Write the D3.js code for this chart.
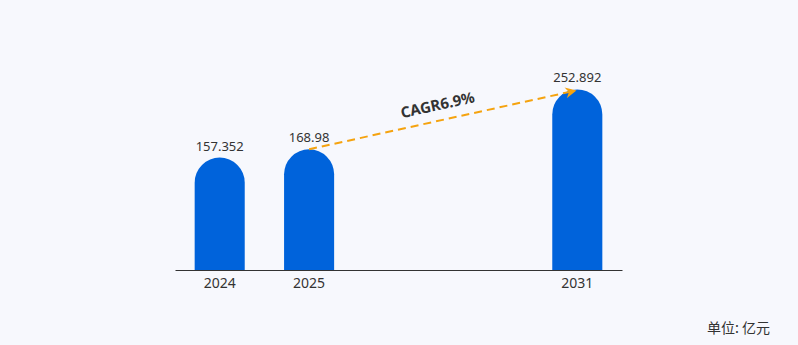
<!DOCTYPE html>
<html>
<head>
<meta charset="utf-8">
<script src="https://cdn.jsdelivr.net/npm/d3@7"></script>
<style>
  html, body { margin: 0; padding: 0; background: #f7f8fd; }
  svg { display: block; font-family: "Noto Sans", "Noto Sans CJK SC", sans-serif; }
</style>
</head>
<body>
<div id="chart"></div>
<script>
// data
var years = ["2024", "2025", "", "", "2031"];
var values = [157.352, 168.98, null, null, 252.892];
var labels = ["157.352", "168.98", "", "", "252.892"];
var cagrText = "CAGR6.9%";
var unitText = "单位: 亿元";

var width = 798, height = 345;
var margin = {top: 70, right: 176, bottom: 75, left: 175};

var svg = d3.select("#chart")
  .append("svg")
  .attr("width", width)
  .attr("height", height);

svg.append("rect")
  .attr("width", width)
  .attr("height", height)
  .attr("fill", "#f7f8fd");

var idx = d3.range(years.length);

// x scale, one slot per category (two empty slots)
var xScale = d3.scaleBand()
  .domain(idx)
  .range([margin.left, width - margin.right])
  .paddingInner(0.44)
  .paddingOuter(0.22);

var yScale = d3.scaleLinear()
  .domain([0, 280])
  .range([height - margin.bottom, margin.top]);

var baseY = yScale(0);

// arrow marker
svg.append("defs").append("marker")
  .attr("id", "arrow")
  .attr("viewBox", "0 0 10 10")
  .attr("refX", 8)
  .attr("refY", 5)
  .attr("markerWidth", 12)
  .attr("markerHeight", 11)
  .attr("markerUnits", "userSpaceOnUse")
  .attr("orient", "auto")
  .append("path")
  .attr("d", "M0,0 L10,5 L0,10 L3,5 Z")
  .attr("fill", "#f5a30f");

// x axis
var xAxis = d3.axisBottom(xScale)
  .tickSize(0)
  .tickPadding(8)
  .tickFormat(function(d) { return years[d]; });

var xAxisGroup = svg.append("g")
  .attr("transform", "translate(0," + baseY + ")")
  .call(xAxis);

xAxisGroup.select(".domain")
  .attr("stroke", "#333")
  .attr("stroke-width", 1);

xAxisGroup.selectAll("text")
  .attr("fill", "#333")
  .style("font-size", "14px")
  .style("font-family", "'Noto Sans', sans-serif");

var barData = idx.filter(function(i) { return values[i] != null; });

// rounded-top bars
svg.selectAll("path.bar")
  .data(barData)
  .enter()
  .append("path")
  .attr("class", "bar")
  .attr("fill", "#0063db")
  .attr("d", function(i) {
    var x0 = xScale(i), w = xScale.bandwidth(), r = w / 2;
    var yTop = yScale(values[i]);
    return "M" + x0 + "," + baseY +
      " L" + x0 + "," + (yTop + r) +
      " A" + r + "," + r + " 0 0 1 " + (x0 + w) + "," + (yTop + r) +
      " L" + (x0 + w) + "," + baseY + " Z";
  });

// value labels
svg.selectAll("text.value")
  .data(barData)
  .enter()
  .append("text")
  .attr("class", "value")
  .attr("x", function(i) { return xScale(i) + xScale.bandwidth() / 2; })
  .attr("y", function(i) { return yScale(values[i]) - 7; })
  .attr("text-anchor", "middle")
  .attr("fill", "#333")
  .style("font-size", "13px")
  .text(function(i) { return labels[i]; });

// CAGR arrow from 2025 to 2031
var xA = xScale(1) + xScale.bandwidth() / 2;
var yA = yScale(values[1]);
var xB = xScale(4) + xScale.bandwidth() / 2 - 3;
var yB = yScale(values[4]) + 1.5;

svg.append("line")
  .attr("x1", xA)
  .attr("y1", yA)
  .attr("x2", xB)
  .attr("y2", yB)
  .attr("stroke", "#f5a30f")
  .attr("stroke-width", 2)
  .attr("stroke-dasharray", "8,5")
  .attr("marker-end", "url(#arrow)");

var angle = Math.atan2(yB - yA, xB - xA) * 180 / Math.PI;
var mx = (xA + xB) / 2 - 3, my = (yA + yB) / 2 - 10;

svg.append("text")
  .attr("transform", "translate(" + mx + "," + my + ") rotate(" + angle + ")")
  .attr("text-anchor", "middle")
  .attr("fill", "#333")
  .style("font-size", "15px")
  .style("font-weight", "bold")
  .text(cagrText);

// unit label
svg.append("text")
  .attr("x", 770)
  .attr("y", 333)
  .attr("text-anchor", "end")
  .attr("fill", "#333")
  .style("font-size", "14px")
  .style("font-family", "'Noto Sans CJK SC', sans-serif")
  .text(unitText);
</script>
</body>
</html>
